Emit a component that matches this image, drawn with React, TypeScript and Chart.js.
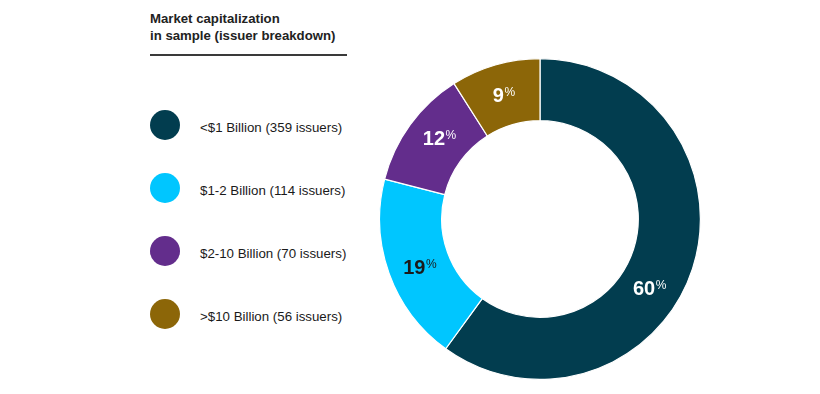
import React, { useEffect, useRef } from "react";
import { Chart, registerables } from "chart.js";

Chart.register(...registerables);

const categories = [
  "<$1 Billion (359 issuers)",
  "$1-2 Billion (114 issuers)",
  "$2-10 Billion (70 issuers)",
  ">$10 Billion (56 issuers)",
];
const shares = [60, 19, 12, 9];
const colors = ["#023D4F", "#00C6FF", "#632D8C", "#8C6608"];
const labelColors = ["#FFFFFF", "#1A1A1A", "#FFFFFF", "#FFFFFF"];
const titleLines = ["Market capitalization", "in sample (issuer breakdown)"];

const FONT = "'Liberation Sans', Arial, Helvetica, sans-serif";
const angleShiftDeg = [14, -2, 3, 0];

const pctLabelPlugin = {
  id: "pctLabels",
  afterDatasetsDraw(chart: any) {
    const ctx = chart.ctx;
    const meta = chart.getDatasetMeta(0);
    meta.data.forEach((arc: any, i: number) => {
      const { x, y, startAngle, endAngle, innerRadius, outerRadius } = arc.getProps(
        ["x", "y", "startAngle", "endAngle", "innerRadius", "outerRadius"],
        true
      );
      const a = (startAngle + endAngle) / 2 + (angleShiftDeg[i] * Math.PI) / 180;
      const r = (innerRadius + outerRadius) / 2;
      const cx = x + r * Math.cos(a);
      const cy = y + r * Math.sin(a);
      const num = String(shares[i]);
      ctx.save();
      ctx.fillStyle = labelColors[i];
      ctx.textBaseline = "alphabetic";
      ctx.textAlign = "left";
      ctx.font = `bold 20px ${FONT}`;
      const wn = ctx.measureText(num).width;
      ctx.font = `12px ${FONT}`;
      const wp = ctx.measureText("%").width;
      const total = wn + wp + 0.5;
      const left = cx - total / 2;
      const base = cy + 7.2;
      ctx.font = `bold 20px ${FONT}`;
      ctx.fillText(num, left, base);
      ctx.font = `12px ${FONT}`;
      ctx.fillText("%", left + wn + 0.5, base - 5.8);
      ctx.restore();
    });
  },
};

function DoughnutChart() {
  const ref = useRef<HTMLCanvasElement | null>(null);
  useEffect(() => {
    if (!ref.current) return;
    const chart = new Chart(ref.current, {
      type: "doughnut",
      data: {
        labels: categories,
        datasets: [
          {
            data: shares,
            backgroundColor: colors,
            borderColor: "#FFFFFF",
            borderWidth: 1.2,
            hoverOffset: 0,
          },
        ],
      },
      options: {
        animation: false,
        responsive: false,
        maintainAspectRatio: false,
        cutout: "61.3%",
        rotation: 0,
        layout: { padding: 0 },
        plugins: {
          legend: { display: false },
          tooltip: { enabled: false },
        },
      },
      plugins: [pctLabelPlugin],
    });
    return () => chart.destroy();
  }, []);
  return (
    <canvas
      ref={ref}
      width={322}
      height={322}
      style={{ position: "absolute", left: 379, top: 58, width: 322, height: 322 }}
    />
  );
}

export default function App() {
  useEffect(() => {
    document.body.style.margin = "0";
  }, []);
  return (
    <div
      style={{
        position: "fixed",
        left: 0,
        top: 0,
        width: 820,
        height: 394,
        background: "#FFFFFF",
        fontFamily: FONT,
        overflow: "hidden",
      }}
    >
      <div
        style={{
          position: "absolute",
          left: 150,
          top: 10,
          fontWeight: "bold",
          fontSize: 13.2,
          lineHeight: "17px",
          color: "#222222",
        }}
      >
        {titleLines.map((t) => (
          <div key={t}>{t}</div>
        ))}
      </div>
      <div
        style={{
          position: "absolute",
          left: 150,
          top: 54,
          width: 197,
          height: 2,
          background: "#3A3A3A",
        }}
      />
      {categories.map((c, i) => (
        <div key={c}>
          <div
            style={{
              position: "absolute",
              left: 150,
              top: 110 + i * 63,
              width: 30,
              height: 30,
              borderRadius: "50%",
              background: colors[i],
            }}
          />
          <div
            style={{
              position: "absolute",
              left: 200,
              top: 120 + i * 63,
              fontSize: 13.3,
              lineHeight: "16px",
              color: "#1A1A1A",
              whiteSpace: "nowrap",
            }}
          >
            {c}
          </div>
        </div>
      ))}
      <DoughnutChart />
    </div>
  );
}
